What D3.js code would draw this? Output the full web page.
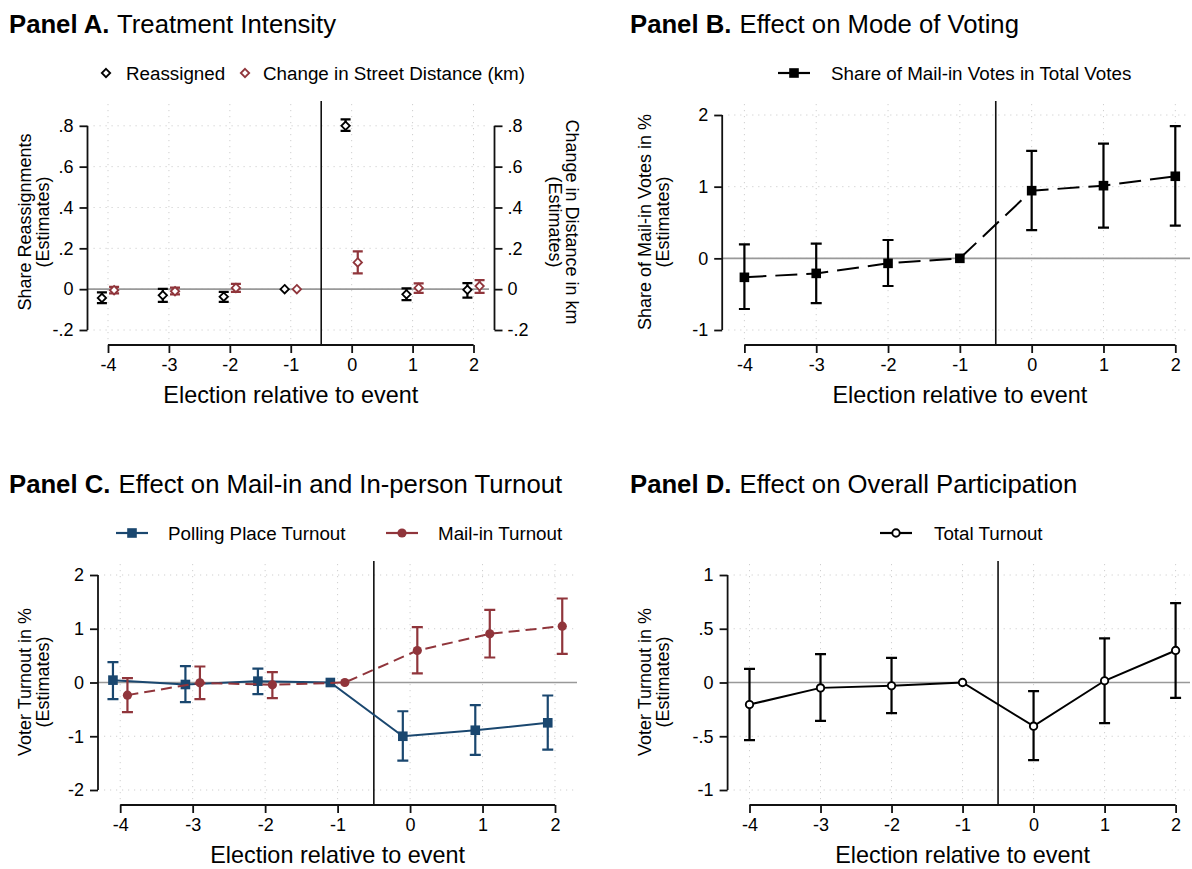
<!DOCTYPE html>
<html>
<head>
<meta charset="utf-8">
<script src="https://cdn.jsdelivr.net/npm/d3@7"></script>
<style>
  html, body { margin: 0; padding: 0; background: #fff; }
  svg { display: block; font-family: "Liberation Sans", Arial, Helvetica, sans-serif; }
</style>
</head>
<body>
<svg id="fig" width="1192" height="869"></svg>
<script>
// Event-study estimates: election relative to the reassignment event
const elections = [-4, -3, -2, -1, 0, 1, 2];

// Panel A: treatment intensity
const reassigned   = [-0.043, -0.030, -0.037, 0, 0.800, -0.025, -0.003];
const reassignedLo = [-0.068, -0.062, -0.062, null, 0.775, -0.054, -0.041];
const reassignedHi = [-0.016, 0.001, -0.013, null, 0.831, 0.004, 0.030];
const distance     = [-0.005, -0.010, 0.006, 0, 0.131, 0.006, 0.015];
const distanceLo   = [-0.021, -0.026, -0.013, null, 0.077, -0.018, -0.018];
const distanceHi   = [0.011, 0.008, 0.026, null, 0.185, 0.028, 0.044];

// Panel B: share of mail-in votes
const mailShare   = [-0.265, -0.210, -0.070, 0, 0.944, 1.014, 1.145];
const mailShareLo = [-0.707, -0.624, -0.386, null, 0.395, 0.428, 0.456];
const mailShareHi = [0.195, 0.204, 0.256, null, 1.500, 1.600, 1.846];

// Panel C: polling place vs mail-in turnout
const polling   = [0.044, -0.037, 0.025, 0, -1.000, -0.888, -0.750];
const pollingLo = [-0.310, -0.365, -0.217, null, -1.454, -1.345, -1.247];
const pollingHi = [0.380, 0.305, 0.260, null, -0.535, -0.420, -0.242];
const mailin    = [-0.235, -0.006, -0.043, 0, 0.595, 0.906, 1.048];
const mailinLo  = [-0.552, -0.310, -0.290, null, 0.168, 0.465, 0.533];
const mailinHi  = [0.081, 0.298, 0.192, null, 1.030, 1.352, 1.563];

// Panel D: total turnout
const total   = [-0.205, -0.050, -0.031, 0, -0.406, 0.016, 0.298];
const totalLo = [-0.536, -0.357, -0.285, null, -0.722, -0.378, -0.143];
const totalHi = [0.127, 0.264, 0.230, null, -0.080, 0.410, 0.739];

// Tick labels
const ticksA = [-0.2, 0, 0.2, 0.4, 0.6, 0.8];
const ticksB = [-1, 0, 1, 2];
const ticksC = [-2, -1, 0, 1, 2];
const ticksD = [-1, -0.5, 0, 0.5, 1];
const fmtDec = d => d === 0 ? "0" : (d < 0 ? "-" : "") + String(Math.abs(d)).replace(/^0/, "");
const fmtInt = d => String(d);

const NAVY = "#1a476f", MAROON = "#90353b", BLACK = "#000";
const svg = d3.select("#fig");

function build(rows) {
  return elections.map((e, i) => ({ e, v: rows[0][i], lo: rows[1][i], hi: rows[2][i] }));
}

function diamond(g, x, y, s, color) {
  g.append("path")
    .attr("d", `M${x},${y - s}L${x + s},${y}L${x},${y + s}L${x - s},${y}Z`)
    .attr("fill", "#fff").attr("stroke", color).attr("stroke-width", 1.8);
}
function drawMarker(g, kind, x, y, color) {
  if (kind === "diamond") diamond(g, x, y, 4.2, color);
  else if (kind === "square") g.append("rect").attr("x", x - 4.8).attr("y", y - 4.8)
      .attr("width", 9.6).attr("height", 9.6).attr("fill", color);
  else if (kind === "dot") g.append("circle").attr("cx", x).attr("cy", y).attr("r", 4.6).attr("fill", color);
  else if (kind === "ring") g.append("circle").attr("cx", x).attr("cy", y).attr("r", 3.7)
      .attr("fill", "#fff").attr("stroke", color).attr("stroke-width", 1.9);
}

function styleAxis(a) {
  a.selectAll(".domain").attr("stroke", "#111").attr("stroke-width", 1.8);
  a.selectAll(".tick line").attr("stroke", "#111").attr("stroke-width", 1.8);
  a.selectAll(".tick text").attr("font-size", 18).attr("fill", "#000")
    .attr("font-family", "Liberation Sans, Arial, sans-serif");
}

function panel(p) {
  const g = svg.append("g");
  const x = d3.scaleLinear().domain([-4, 2]).range(p.xr);
  const y = d3.scaleLinear().domain(p.yd).range(p.yr);

  // title
  const t = g.append("text").attr("x", p.tx).attr("y", p.ty).attr("font-size", 25.7).attr("fill", "#000");
  t.append("tspan").attr("font-weight", "bold").text(p.label);
  t.append("tspan").attr("dx", 1).text(" " + p.title);

  // grid
  const gridL = p.axisX + 6, gridR = p.plotRight;
  g.append("g").selectAll("line").data(p.yt).join("line")
    .attr("x1", gridL).attr("x2", gridR).attr("y1", d => y(d)).attr("y2", d => y(d))
    .attr("stroke", "#cfcfcf").attr("stroke-width", 1).attr("stroke-dasharray", "1.2,4.8");
  g.append("g").selectAll("line").data(elections).join("line")
    .attr("x1", d => x(d)).attr("x2", d => x(d)).attr("y1", p.plotTop + 3).attr("y2", p.xAxisY)
    .attr("stroke", "#cfcfcf").attr("stroke-width", 1).attr("stroke-dasharray", "1.2,4.8");

  // reference lines
  g.append("line").attr("x1", p.axisX).attr("x2", gridR).attr("y1", y(0)).attr("y2", y(0))
    .attr("stroke", "#999").attr("stroke-width", 1.6);
  g.append("line").attr("x1", x(-0.5)).attr("x2", x(-0.5)).attr("y1", p.plotTop).attr("y2", p.xAxisY)
    .attr("stroke", "#111").attr("stroke-width", 1.6);

  // left axis
  const ya = g.append("g").attr("transform", `translate(${p.axisX},0)`)
    .call(d3.axisLeft(y).tickValues(p.yt).tickFormat(p.fmt).tickSize(8).tickPadding(6));
  ya.select(".domain").attr("d", `M0,${y(p.yt[0])}V${y(p.yt[p.yt.length - 1])}`);
  styleAxis(ya);
  // right axis (Panel A)
  if (p.rightAxisX) {
    const yr = g.append("g").attr("transform", `translate(${p.rightAxisX},0)`)
      .call(d3.axisRight(y).tickValues(p.yt).tickFormat(p.fmt).tickSize(8).tickPadding(5));
    yr.select(".domain").attr("d", `M0,${y(p.yt[0])}V${y(p.yt[p.yt.length - 1])}`);
    styleAxis(yr);
  }
  // bottom axis
  const xa = g.append("g").attr("transform", `translate(0,${p.xAxisY})`)
    .call(d3.axisBottom(x).tickValues(elections).tickFormat(d => d < 0 ? "-" + Math.abs(d) : String(d))
      .tickSize(8).tickPadding(5));
  xa.select(".domain").attr("d", `M${x(-4)},0H${x(2)}`);
  styleAxis(xa);

  g.append("text").attr("x", (x(-4) + x(2)) / 2).attr("y", p.xAxisY + 58)
    .attr("text-anchor", "middle").attr("font-size", 23.4).text("Election relative to event");

  // y titles
  p.ylab.forEach((line, i) => {
    g.append("text").attr("transform", `translate(${p.ylabX[i]},${p.ylabY}) rotate(-90)`)
      .attr("text-anchor", "middle").attr("font-size", 18).text(line);
  });
  if (p.rlab) p.rlab.forEach((line, i) => {
    g.append("text").attr("transform", `translate(${p.rlabX[i]},${p.ylabY}) rotate(90)`)
      .attr("text-anchor", "middle").attr("font-size", 18).text(line);
  });

  // series
  p.series.forEach(s => {
    const pts = build(s.rows);
    const px = d => x(d.e + s.off);
    if (s.line) {
      g.append("path").datum(pts)
        .attr("d", d3.line().x(px).y(d => y(d.v)))
        .attr("fill", "none").attr("stroke", s.color).attr("stroke-width", 2)
        .attr("stroke-dasharray", s.dash || null);
    }
    pts.filter(d => d.lo !== null).forEach(d => {
      const cx = px(d), y1 = y(d.hi), y2 = y(d.lo), w = s.cap;
      g.append("path").attr("d", `M${cx - w},${y1}H${cx + w}M${cx},${y1}V${y2}M${cx - w},${y2}H${cx + w}`)
        .attr("fill", "none").attr("stroke", s.color).attr("stroke-width", 2.2);
    });
    pts.forEach(d => drawMarker(g, s.marker, px(d), y(d.v), s.color));
  });

  // legend
  p.legend.forEach(l => {
    if (l.line) g.append("line").attr("x1", l.x - 16).attr("x2", l.x + 16).attr("y1", p.legY).attr("y2", p.legY)
      .attr("stroke", l.color).attr("stroke-width", 2.2);
    drawMarker(g, l.marker, l.x, p.legY, l.color);
    g.append("text").attr("x", l.tx).attr("y", p.legY + 6.7).attr("font-size", 18.8).text(l.text);
  });
}

panel({
  label: "Panel A.", title: "Treatment Intensity", tx: 9, ty: 33,
  xr: [108, 473.5], yd: [-0.2, 0.8], yr: [330, 125.8], yt: ticksA, fmt: fmtDec,
  axisX: 87.5, rightAxisX: 494.5, plotRight: 489, plotTop: 101, xAxisY: 345,
  ylab: ["Share Reassignments", "(Estimates)"], ylabX: [31, 49], ylabY: 222,
  rlab: ["Change in Distance in km", "(Estimates)"], rlabX: [566, 549],
  legY: 73,
  legend: [
    { marker: "diamond", color: BLACK, x: 106, tx: 126, text: "Reassigned" },
    { marker: "diamond", color: MAROON, x: 245, tx: 263, text: "Change in Street Distance (km)" }
  ],
  series: [
    { rows: [reassigned, reassignedLo, reassignedHi], off: -0.1, color: BLACK, marker: "diamond", cap: 5 },
    { rows: [distance, distanceLo, distanceHi], off: 0.1, color: MAROON, marker: "diamond", cap: 5 }
  ]
});

panel({
  label: "Panel B.", title: "Effect on Mode of Voting", tx: 630, ty: 33,
  xr: [744.4, 1175.3], yd: [-1, 2], yr: [330, 115], yt: ticksB, fmt: fmtInt,
  axisX: 722.2, plotRight: 1190, plotTop: 101, xAxisY: 345,
  ylab: ["Share of Mail-in Votes in %", "(Estimates)"], ylabX: [651, 669], ylabY: 222,
  legY: 73,
  legend: [
    { marker: "square", color: BLACK, x: 794, tx: 831, text: "Share of Mail-in Votes in Total Votes", line: true }
  ],
  series: [
    { rows: [mailShare, mailShareLo, mailShareHi], off: 0, color: BLACK, marker: "square", cap: 5.5,
      line: true, dash: "22,9" }
  ]
});

panel({
  label: "Panel C.", title: "Effect on Mail-in and In-person Turnout", tx: 9, ty: 493,
  xr: [120.2, 555], yd: [-2, 2], yr: [790, 575], yt: ticksC, fmt: fmtInt,
  axisX: 98, plotRight: 577, plotTop: 561, xAxisY: 805,
  ylab: ["Voter Turnout in  %", "(Estimates)"], ylabX: [31, 49], ylabY: 682,
  legY: 533,
  legend: [
    { marker: "square", color: NAVY, x: 132, tx: 168, text: "Polling Place Turnout", line: true },
    { marker: "dot", color: MAROON, x: 402, tx: 438, text: "Mail-in Turnout", line: true }
  ],
  series: [
    { rows: [polling, pollingLo, pollingHi], off: -0.1, color: NAVY, marker: "square", cap: 5.5, line: true },
    { rows: [mailin, mailinLo, mailinHi], off: 0.1, color: MAROON, marker: "dot", cap: 5.5, line: true, dash: "11,6" }
  ]
});

panel({
  label: "Panel D.", title: "Effect on Overall Participation", tx: 630, ty: 493,
  xr: [749.5, 1175.6], yd: [-1, 1], yr: [790, 575], yt: ticksD, fmt: fmtDec,
  axisX: 727.6, plotRight: 1190, plotTop: 561, xAxisY: 805,
  ylab: ["Voter Turnout in  %", "(Estimates)"], ylabX: [651, 669], ylabY: 682,
  legY: 533,
  legend: [
    { marker: "ring", color: BLACK, x: 896, tx: 934, text: "Total Turnout", line: true }
  ],
  series: [
    { rows: [total, totalLo, totalHi], off: 0, color: BLACK, marker: "ring", cap: 5.5, line: true }
  ]
});
</script>
</body>
</html>
